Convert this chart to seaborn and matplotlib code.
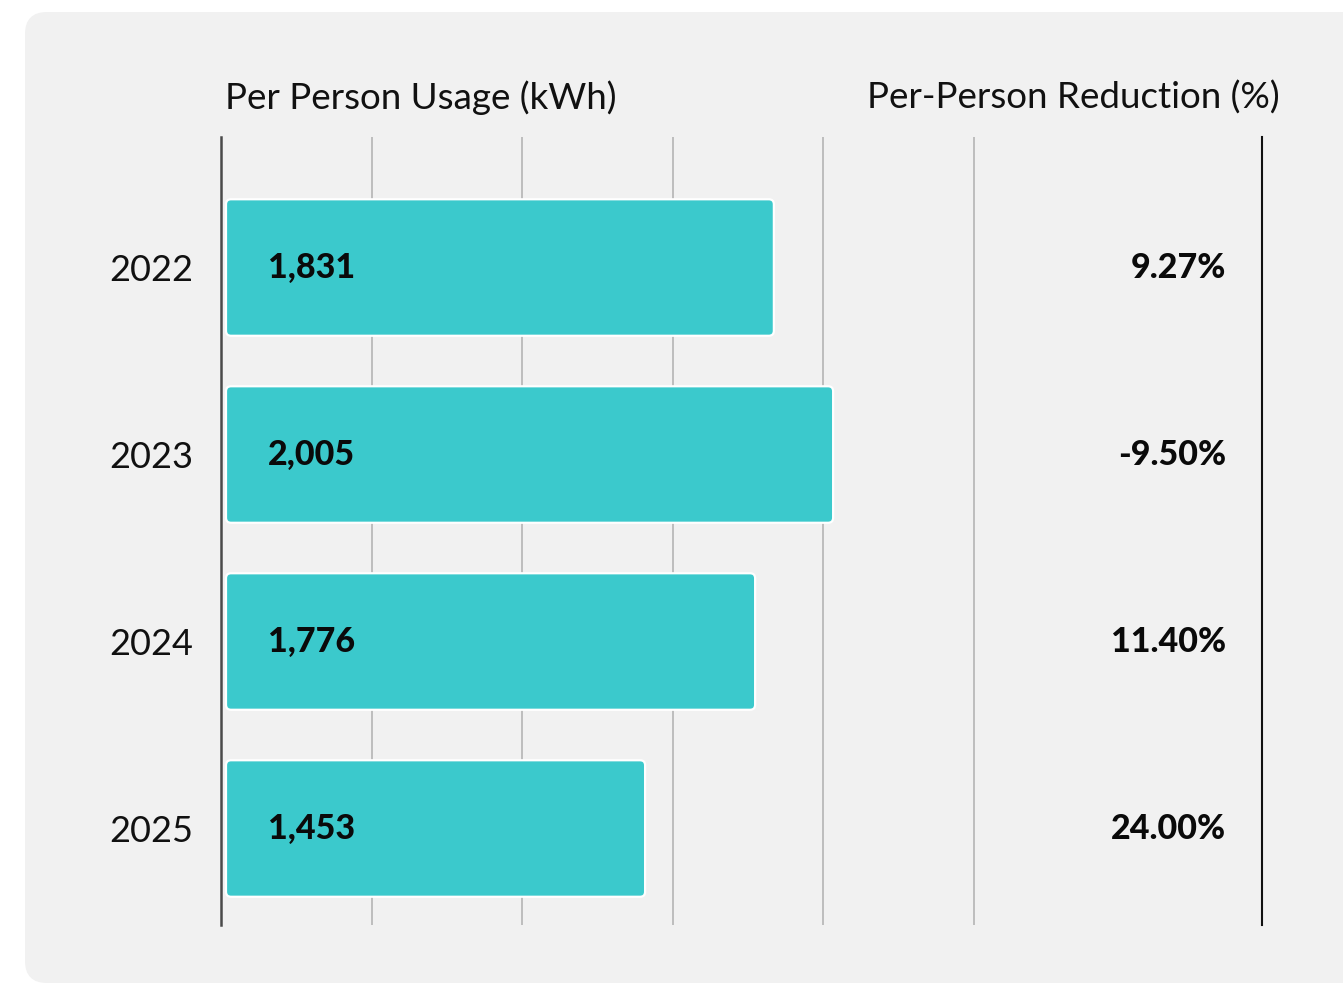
import matplotlib
matplotlib.use("Agg")
import matplotlib.pyplot as plt
from matplotlib.patches import FancyBboxPatch
from matplotlib.transforms import IdentityTransform, blended_transform_factory
import numpy as np
import pandas as pd
import seaborn as sns

# Data
years = ["2022", "2023", "2024", "2025"]
usage_kwh = [1831, 2005, 1776, 1453]
reduction_pct = [9.27, -9.50, 11.40, 24.00]

usage_labels = ["1,831", "2,005", "1,776", "1,453"]
reduction_labels = ["9.27%", "-9.50%", "11.40%", "24.00%"]

# Scale settings
X_MIN, X_MAX = 208, 3264
GRID_STEP = 442

BAR_COLOR = "#3BC9CC"
PANEL_COLOR = "#F1F1F1"
FONT = "Lato"

W, H, DPI = 1343, 985, 100

sns.set_theme(style="white")
plt.rcParams["font.family"] = [FONT, "DejaVu Sans"]

df = pd.DataFrame({"year": years, "usage": usage_kwh})

fig = plt.figure(figsize=(W / DPI, H / DPI), dpi=DPI)
fig.patch.set_facecolor("white")

# rounded light panel behind the chart
panel = FancyBboxPatch((25, 2), 1400, H - 14,
                       boxstyle="round,pad=0,rounding_size=22",
                       transform=IdentityTransform(),
                       facecolor=PANEL_COLOR, edgecolor="none", zorder=-10)
fig.patches.append(panel)

ax = fig.add_axes([221 / W, (H - 925) / H, (1262 - 221) / W, (925 - 137) / H])
ax.patch.set_visible(False)
ax.set_zorder(2)

sns.barplot(data=df, x="usage", y="year", orient="h", color=BAR_COLOR,
            width=0.73, ax=ax, saturation=1)

ax.set_xlim(X_MIN, X_MAX)
ax.set_ylim(3.516, -0.698)

# grid lines
ax.set_xticks([X_MIN + GRID_STEP * k for k in range(1, 6)])
ax.set_xticklabels([])
ax.tick_params(axis="x", length=0)
ax.grid(axis="x", color="#BDBDBD", linewidth=1.4)
ax.grid(axis="y", visible=False)
ax.set_axisbelow(True)

for side in ["top", "bottom"]:
    ax.spines[side].set_visible(False)
ax.spines["left"].set_color("#4A4A4A")
ax.spines["left"].set_linewidth(1.8)
ax.spines["right"].set_color("#111111")
ax.spines["right"].set_linewidth(1.5)
ax.spines["left"].set_zorder(5)

ax.set_xlabel("")
ax.set_ylabel("")
ax.tick_params(axis="y", length=0, pad=20, labelsize=26, labelcolor="#111111")

fig.canvas.draw()

# swap plain bars for rounded ones with a white outline
x_per_px = (X_MAX - X_MIN) / (1262 - 221)
y_per_px = (3.516 + 0.698) / (925 - 137)
bar_start = X_MIN + 5 * x_per_px
for p in list(ax.patches):
    y0, h = p.get_y(), p.get_height()
    x1 = p.get_x() + p.get_width()
    p.remove()
    rb = FancyBboxPatch((bar_start, y0), x1 - bar_start, h,
                        boxstyle=f"round,pad=0,rounding_size={5 * x_per_px}",
                        mutation_aspect=y_per_px / x_per_px,
                        facecolor=BAR_COLOR, edgecolor="white",
                        linewidth=1.6, zorder=3)
    ax.add_patch(rb)

# value labels
label_tf = blended_transform_factory(ax.transAxes, ax.transData)
x_val = (268 - 221) / (1262 - 221)
x_pct = (1226 - 221) / (1262 - 221)
for i, (u, r) in enumerate(zip(usage_labels, reduction_labels)):
    ax.text(x_val, i, u, transform=label_tf, ha="left", va="center",
            fontsize=24.5, fontweight=900, color="#0A0A0A", zorder=6)
    ax.text(x_pct, i, r, transform=label_tf, ha="right", va="center",
            fontsize=24.5, fontweight=900, color="#0A0A0A", zorder=6)

# column headers
fig.text(225 / W, 1 - 98 / H, "Per Person Usage (kWh)", ha="left", va="center",
         fontsize=26.5, color="#111111")
fig.text(1280 / W, 1 - 98 / H, "Per-Person Reduction (%)", ha="right", va="center",
         fontsize=26.5, color="#111111")

fig.savefig("out.png", dpi=DPI, facecolor="white")
